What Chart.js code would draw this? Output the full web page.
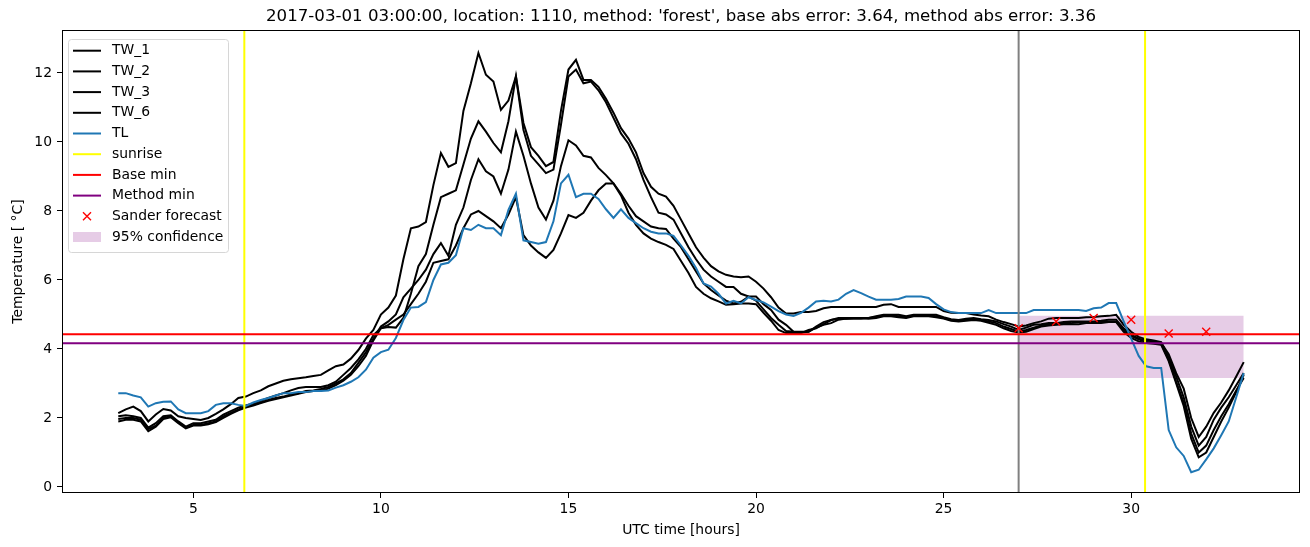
<!DOCTYPE html>
<html>
<head>
<meta charset="utf-8">
<script src="https://cdn.jsdelivr.net/npm/chart.js@4.4.1/dist/chart.umd.min.js"></script>
<style>
  html, body { margin: 0; padding: 0; background: #fff; }
</style>
</head>
<body>
<canvas id="chart" width="1310" height="547"></canvas>
<script>
// time grid, every 12 minutes from 03:00 to 33:00
const hours = Array.from({length: 151}, (_, i) => Math.round((3 + i * 0.2) * 10) / 10);

const tw1 = [
  2.14, 2.25, 2.33, 2.2, 1.9, 2.1, 2.26, 2.22, 2.05, 2.0,
  1.97, 1.94, 2.0, 2.12, 2.25, 2.4, 2.58, 2.62, 2.72, 2.8,
  2.92, 3.0, 3.08, 3.12, 3.15, 3.18, 3.22, 3.25, 3.38, 3.5,
  3.55, 3.72, 3.97, 4.3, 4.55, 5.0, 5.2, 5.55, 6.6, 7.5,
  7.55, 7.68, 8.75, 9.68, 9.28, 9.39, 10.9, 11.7, 12.58, 11.95,
  11.75, 10.93, 11.2, 11.9, 10.55, 9.85, 9.6, 9.3, 9.42, 10.9,
  12.1, 12.38, 11.8, 11.8, 11.6, 11.25, 10.85, 10.4, 10.1, 9.7,
  9.1, 8.7, 8.5, 8.42, 8.15, 7.75, 7.35, 6.95, 6.65, 6.4,
  6.25, 6.15, 6.1, 6.08, 6.1, 5.95, 5.75, 5.5, 5.2, 5.03,
  5.03, 5.07, 5.07, 5.1, 5.18, 5.22, 5.22, 5.22, 5.22, 5.22,
  5.22, 5.22, 5.28, 5.3, 5.22, 5.22, 5.22, 5.22, 5.22, 5.22,
  5.1, 5.05, 5.04, 5.04, 5.0, 4.97, 4.95, 4.85, 4.78, 4.72,
  4.65, 4.68, 4.75, 4.8, 4.88, 4.9, 4.9, 4.9, 4.9, 4.92,
  4.93, 4.95, 4.96, 4.99, 4.7, 4.5, 4.35, 4.28, 4.25, 4.2,
  3.75, 3.2, 2.6, 1.75, 1.2, 1.45, 1.95, 2.3, 2.6, 2.95,
  3.3
];
const tw2 = [
  2.05, 2.08, 2.05, 2.0, 1.72, 1.85, 2.05, 2.08, 1.9, 1.75,
  1.85, 1.85, 1.9, 1.95, 2.1, 2.2, 2.3, 2.36, 2.42, 2.5,
  2.58, 2.65, 2.72, 2.8, 2.87, 2.9, 2.9, 2.9, 2.95, 3.05,
  3.25, 3.45, 3.7, 4.0, 4.4, 4.6, 4.64, 4.62, 4.9, 5.6,
  6.4, 6.75, 7.6, 8.4, 8.5, 8.6, 9.35, 10.1, 10.6, 10.3,
  9.97, 9.7, 10.6, 11.9, 10.35, 9.6, 9.35, 9.1, 9.2, 10.5,
  11.9, 12.1, 11.7, 11.75, 11.5, 11.15, 10.7, 10.25, 9.95, 9.5,
  8.9, 8.4, 7.95, 7.9, 7.75, 7.35, 6.95, 6.6, 6.3, 6.1,
  5.95, 5.8, 5.8, 5.6, 5.52, 5.52, 5.3, 5.13, 4.85, 4.7,
  4.5, 4.48, 4.5, 4.65, 4.78, 4.84, 4.9, 4.9, 4.9, 4.9,
  4.9, 4.95, 4.99, 4.99, 4.99, 4.95, 4.99, 4.99, 4.99, 4.99,
  4.92, 4.86, 4.84, 4.88, 4.9, 4.86, 4.84, 4.8, 4.72, 4.65,
  4.55, 4.62, 4.7, 4.72, 4.75, 4.75, 4.78, 4.8, 4.8, 4.8,
  4.8, 4.82, 4.85, 4.85, 4.6, 4.42, 4.3, 4.25, 4.22, 4.18,
  3.85, 3.3, 2.85, 2.0, 1.45, 1.75, 2.15, 2.45, 2.8, 3.2,
  3.62
];
const tw3 = [
  1.97, 2.0, 2.0, 1.95, 1.68, 1.78, 2.0, 2.05, 1.88, 1.72,
  1.8, 1.8, 1.85, 1.9, 2.05, 2.15, 2.25, 2.33, 2.38, 2.45,
  2.52, 2.58, 2.62, 2.68, 2.72, 2.78, 2.8, 2.84, 2.9, 3.0,
  3.12, 3.3, 3.6, 3.9, 4.3, 4.65, 4.8, 5.0, 5.5, 5.75,
  6.0, 6.3, 6.75, 7.07, 6.7, 7.6, 8.1, 8.9, 9.5, 9.15,
  9.0, 8.5, 9.2, 10.3, 9.6, 8.8, 8.1, 7.75, 8.3, 9.3,
  10.05, 9.9, 9.6, 9.55, 9.25, 9.04, 8.8, 8.5, 8.15, 7.85,
  7.7, 7.55, 7.5, 7.48, 7.2, 6.95, 6.6, 6.25, 5.9, 5.71,
  5.55, 5.4, 5.32, 5.37, 5.52, 5.4, 5.15, 4.9, 4.7, 4.52,
  4.5, 4.5, 4.5, 4.62, 4.7, 4.75, 4.85, 4.88, 4.88, 4.88,
  4.9, 4.93, 4.97, 4.97, 4.95, 4.92, 4.97, 4.97, 4.97, 4.95,
  4.9, 4.84, 4.82, 4.85, 4.86, 4.84, 4.8, 4.75, 4.65, 4.58,
  4.5, 4.55, 4.62, 4.68, 4.72, 4.72, 4.75, 4.75, 4.78, 4.78,
  4.78, 4.78, 4.8, 4.8, 4.55, 4.38, 4.28, 4.2, 4.18, 4.15,
  3.7, 3.05, 2.45, 1.55, 1.0, 1.2, 1.65, 2.05, 2.4, 2.8,
  3.16
];
const tw6 = [
  1.9, 1.95, 1.95, 1.9, 1.62, 1.75, 1.97, 2.02, 1.85, 1.7,
  1.78, 1.78, 1.82, 1.88, 2.0, 2.12, 2.22, 2.3, 2.36, 2.43,
  2.5, 2.55, 2.6, 2.65, 2.7, 2.75, 2.78, 2.8, 2.85, 2.95,
  3.08, 3.25, 3.5, 3.8, 4.25, 4.6, 4.7, 4.85, 5.0, 5.3,
  5.6, 5.95, 6.5, 6.55, 6.6, 7.0, 7.5, 7.9, 8.0, 7.85,
  7.7, 7.5, 7.9, 8.4, 7.3, 7.0, 6.8, 6.64, 6.87, 7.35,
  7.88, 7.8, 7.95, 8.3, 8.6, 8.8, 8.8, 8.45, 7.95, 7.6,
  7.35, 7.2, 7.1, 7.02, 6.9, 6.55, 6.2, 5.8, 5.6, 5.47,
  5.38, 5.28, 5.3, 5.32, 5.32, 5.3, 5.05, 4.82, 4.55, 4.46,
  4.46, 4.46, 4.55, 4.6, 4.72, 4.84, 4.88, 4.88, 4.9, 4.9,
  4.88, 4.9, 4.95, 4.95, 4.92, 4.9, 4.95, 4.95, 4.95, 4.92,
  4.88, 4.82, 4.8, 4.82, 4.84, 4.82, 4.76, 4.7, 4.6, 4.52,
  4.48, 4.5, 4.58, 4.65, 4.68, 4.7, 4.72, 4.72, 4.72, 4.75,
  4.75, 4.75, 4.78, 4.78, 4.5, 4.32, 4.22, 4.17, 4.15, 4.12,
  3.65, 3.0, 2.35, 1.4, 0.86, 1.0, 1.45, 1.9, 2.3, 2.75,
  3.25
];
const tl = [
  2.72, 2.72, 2.65, 2.6, 2.33, 2.43, 2.47, 2.48, 2.25, 2.14,
  2.14, 2.14, 2.2, 2.38, 2.43, 2.43, 2.38, 2.35, 2.45, 2.52,
  2.58, 2.65, 2.72, 2.72, 2.75, 2.75, 2.78, 2.78, 2.8, 2.88,
  2.95, 3.05, 3.18, 3.4, 3.75, 3.91, 3.98, 4.32, 4.84, 5.2,
  5.22, 5.36, 6.0, 6.45, 6.5, 6.72, 7.5, 7.45, 7.6, 7.5,
  7.5, 7.3, 8.03, 8.5, 7.15, 7.1, 7.05, 7.1, 7.7, 8.8,
  9.05, 8.4, 8.5, 8.5, 8.35, 8.05, 7.8, 8.05, 7.8, 7.65,
  7.5, 7.4, 7.35, 7.35, 7.28, 7.0, 6.7, 6.35, 5.9, 5.81,
  5.6, 5.32, 5.4, 5.32, 5.5, 5.42, 5.35, 5.23, 5.1, 5.0,
  4.96, 5.05, 5.2, 5.38, 5.4, 5.38, 5.43, 5.6, 5.71, 5.62,
  5.52, 5.43, 5.43, 5.43, 5.45, 5.52, 5.52, 5.52, 5.48, 5.3,
  5.15, 5.07, 5.04, 5.04, 5.04, 5.04, 5.13, 5.04, 5.04, 5.04,
  5.04, 5.04, 5.13, 5.13, 5.13, 5.13, 5.13, 5.13, 5.13, 5.1,
  5.18, 5.2, 5.33, 5.33, 4.8, 4.3, 3.8, 3.5, 3.45, 3.45,
  1.65, 1.15, 0.9, 0.43, 0.5, 0.8, 1.12, 1.5, 1.9, 2.6,
  3.3
];

const forecastHours = [27, 28, 29, 30, 31, 32];
const forecastTemp = [4.6, 4.8, 4.9, 4.85, 4.45, 4.5];
const sunriseHours = [6.36, 30.37];
const issueHour = 27;
const baseMin = 4.43;
const methodMin = 4.17;
const confBand = [3.16, 4.96];
const confHours = [27, 33];

const xTicks = [5, 10, 15, 20, 25, 30];
const yTicks = [0, 2, 4, 6, 8, 10, 12];
const X_MIN = 1.5, X_MAX = 34.5, Y_MIN = -0.174, Y_MAX = 13.246;

const TITLE = "2017-03-01 03:00:00, location: 1110, method: 'forest', base abs error: 3.64, method abs error: 3.36";
const FONT = '"DejaVu Sans", sans-serif';
const BLUE = '#1f77b4';
const PURPLE = '#800080';
const CONF_FILL = 'rgba(128,0,128,0.2)';

const pts = arr => hours.map((h, i) => ({x: h, y: arr[i]}));
const line = (label, data, color) => ({
  label, data, borderColor: color, backgroundColor: color,
  borderWidth: 2, pointRadius: 0, fill: false, tension: 0
});

const vlines = xs => {
  const out = [];
  xs.forEach((x, i) => {
    if (i > 0) out.push({x: x, y: null});
    out.push({x: x, y: Y_MIN}, {x: x, y: Y_MAX});
  });
  return out;
};

// legend entries in matplotlib order
const legendItems = [
  {text: 'TW_1', kind: 'line', color: '#000'},
  {text: 'TW_2', kind: 'line', color: '#000'},
  {text: 'TW_3', kind: 'line', color: '#000'},
  {text: 'TW_6', kind: 'line', color: '#000'},
  {text: 'TL', kind: 'line', color: BLUE},
  {text: 'sunrise', kind: 'line', color: 'yellow'},
  {text: 'Base min', kind: 'line', color: 'red'},
  {text: 'Method min', kind: 'line', color: PURPLE},
  {text: 'Sander forecast', kind: 'cross', color: 'red'},
  {text: '95% confidence', kind: 'patch', color: CONF_FILL}
];

const drawCross = (ctx, x, y, r) => {
  ctx.beginPath();
  ctx.moveTo(x - r, y - r); ctx.lineTo(x + r, y + r);
  ctx.moveTo(x - r, y + r); ctx.lineTo(x + r, y - r);
  ctx.stroke();
};

const decorations = {
  id: 'decorations',
  afterDraw(chart) {
    const ctx = chart.ctx;
    const a = chart.chartArea;
    ctx.save();
    // frame
    ctx.strokeStyle = '#000';
    ctx.lineWidth = 1;
    ctx.strokeRect(Math.round(a.left) + 0.5, Math.round(a.top) + 0.5,
      Math.round(a.right - a.left) - 1, Math.round(a.bottom - a.top) - 1);
    // title
    ctx.fillStyle = '#000';
    ctx.font = '16.7px ' + FONT;
    ctx.textAlign = 'center';
    ctx.textBaseline = 'middle';
    ctx.fillText(TITLE, (a.left + a.right) / 2, 17, 830);
    // legend
    const lx = 68.5, ly = 39.5, lw = 160, lh = 213;
    ctx.beginPath();
    ctx.roundRect(lx, ly, lw, lh, 3);
    ctx.fillStyle = 'rgba(255,255,255,0.8)';
    ctx.fill();
    ctx.strokeStyle = '#d6d6d6';
    ctx.stroke();
    ctx.font = '13.9px ' + FONT;
    ctx.textAlign = 'left';
    legendItems.forEach((it, i) => {
      const y = 50.7 + i * 20.7;
      if (it.kind === 'line') {
        ctx.strokeStyle = it.color;
        ctx.lineWidth = 2;
        ctx.beginPath();
        ctx.moveTo(73, y); ctx.lineTo(101, y);
        ctx.stroke();
      } else if (it.kind === 'cross') {
        ctx.strokeStyle = it.color;
        ctx.lineWidth = 1.4;
        drawCross(ctx, 87, y, 4);
      } else {
        ctx.fillStyle = it.color;
        ctx.fillRect(73, y - 5, 28, 10);
      }
      ctx.fillStyle = '#000';
      ctx.fillText(it.text, 112, y);
    });
    ctx.restore();
  }
};

// red 'x' markers for the forecast
const crossMarks = {
  id: 'crossMarks',
  afterDatasetsDraw(chart) {
    const ctx = chart.ctx;
    const xs = chart.scales.x, ys = chart.scales.y;
    ctx.save();
    ctx.strokeStyle = 'red';
    ctx.lineWidth = 1.4;
    forecastHours.forEach((h, i) => {
      drawCross(ctx, xs.getPixelForValue(h), ys.getPixelForValue(forecastTemp[i]), 4);
    });
    ctx.restore();
  }
};

new Chart(document.getElementById('chart'), {
  type: 'line',
  data: {
    datasets: [
      line('Base min', [{x: X_MIN, y: baseMin}, {x: X_MAX, y: baseMin}], 'red'),
      line('Method min', [{x: X_MIN, y: methodMin}, {x: X_MAX, y: methodMin}], PURPLE),
      line('sunrise', vlines(sunriseHours), 'yellow'),
      line('issue', vlines([issueHour]), '#808080'),
      line('TL', pts(tl), BLUE),
      line('TW_6', pts(tw6), '#000'),
      line('TW_3', pts(tw3), '#000'),
      line('TW_2', pts(tw2), '#000'),
      line('TW_1', pts(tw1), '#000'),
      {
        label: '95% confidence',
        data: confHours.map(h => ({x: h, y: confBand[1]})),
        borderWidth: 0, pointRadius: 0,
        backgroundColor: CONF_FILL,
        fill: {value: confBand[0]}
      }
    ]
  },
  options: {
    responsive: false,
    animation: false,
    layout: {padding: {left: 0, right: 10, top: 30, bottom: 0}},
    plugins: {legend: {display: false}, tooltip: {enabled: false}, title: {display: false}},
    scales: {
      x: {
        type: 'linear', min: X_MIN, max: X_MAX,
        afterBuildTicks: s => { s.ticks = xTicks.map(v => ({value: v})); },
        afterFit: s => { s.height = 54; },
        grid: {drawOnChartArea: false, drawTicks: true, tickLength: 5, tickColor: '#000'},
        border: {display: false},
        ticks: {color: '#000', font: {family: FONT, size: 13.9}, padding: 3, maxRotation: 0},
        title: {display: true, text: 'UTC time [hours]', color: '#000',
          font: {family: FONT, size: 13.9}, padding: {top: 0, bottom: 8}}
      },
      y: {
        type: 'linear', min: Y_MIN, max: Y_MAX,
        afterBuildTicks: s => { s.ticks = yTicks.map(v => ({value: v})); },
        afterFit: s => { s.width = 62; },
        grid: {drawOnChartArea: false, drawTicks: true, tickLength: 5, tickColor: '#000'},
        border: {display: false},
        ticks: {color: '#000', font: {family: FONT, size: 13.9}, padding: 5},
        title: {display: true, text: 'Temperature [ °C]', color: '#000',
          font: {family: FONT, size: 13.9}, padding: {top: 10, bottom: 0}}
      }
    }
  },
  plugins: [crossMarks, decorations]
});
</script>
</body>
</html>
